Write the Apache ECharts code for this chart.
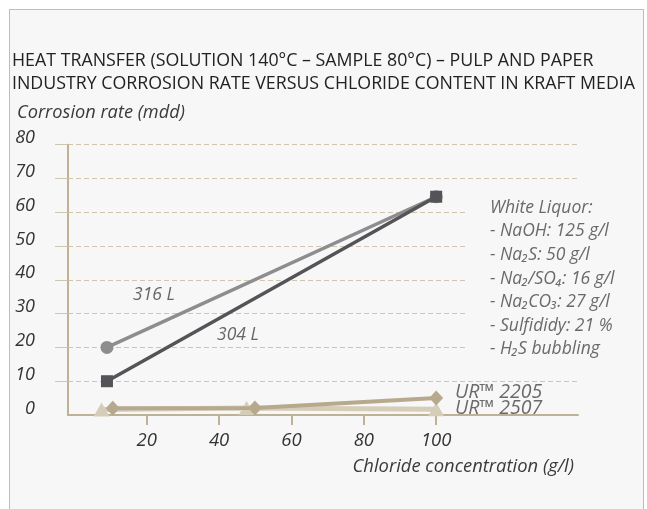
<!DOCTYPE html>
<html>
<head>
<meta charset="utf-8">
<script src="https://cdn.jsdelivr.net/npm/echarts@6/dist/echarts.min.js"></script>
<style>
  html, body { margin: 0; padding: 0; background: #ffffff; }
  #wrap { position: relative; width: 647px; height: 509px; overflow: hidden; }
  #frame { position: absolute; left: 9px; top: 9px; width: 633px; height: 530px;
           background: #f7f7f7; border: 1.5px solid #bdbdbd; }
  #chart { position: absolute; left: 0; top: 0; width: 647px; height: 509px; }
</style>
</head>
<body>
<div id="wrap"><div id="frame"></div><div id="chart"></div></div>
<script>
// ---- data ----
const titleLines = ['HEAT TRANSFER (SOLUTION 140°C – SAMPLE 80°C) – PULP AND PAPER',
                    'INDUSTRY CORROSION RATE VERSUS CHLORIDE CONTENT IN KRAFT MEDIA'];
const yAxisName = 'Corrosion rate (mdd)';
const xAxisName = 'Chloride concentration (g/l)';
const xTicks = [20, 40, 60, 80, 100];
const yTicks = [0, 10, 20, 30, 40, 50, 60, 70, 80];

const x316 = [9, 100];
const y316 = [20, 64.6];
const x304 = [9, 100];
const y304 = [10, 64.6];
const x2205 = [10.6, 49.9, 100];
const y2205 = [2.0, 2.1, 5.0];
const x2507 = [7.5, 47.6, 100];
const y2507 = [1.6, 2.1, 1.7];

const seriesNames = ['316 L', '304 L', 'UR™ 2205', 'UR™ 2507'];
const noteLines = ['White Liquor:', '- NaOH: 125 g/l', '- Na₂S: 50 g/l', '- Na₂/SO₄: 16 g/l',
                   '- Na₂CO₃: 27 g/l', '- Sulfididy: 21 %', '- H₂S bubbling'];

function pairs(xs, ys) { return xs.map((x, i) => [x, ys[i]]); }

const FONT = '"Open Sans", "Noto Sans", sans-serif';
const tan = '#bdb196';
const grid = '#cfc6b0';

const chart = echarts.init(document.getElementById('chart'), null, { renderer: 'canvas' });

const option = {
  animation: false,
  backgroundColor: 'transparent',
  grid: { left: 68, right: 69, top: 144.7, bottom: 94, containLabel: false },
  xAxis: {
    type: 'value', min: -1.77, max: 139.2,
    axisLine: { show: true, lineStyle: { color: tan, width: 2 } },
    axisTick: { show: true, customValues: xTicks, length: 10, lineStyle: { color: tan, width: 2 } },
    axisLabel: { show: true, customValues: xTicks, margin: 16, color: '#333',
                 fontFamily: FONT, fontStyle: 'italic', fontSize: 18.5 },
    splitLine: { show: false }
  },
  yAxis: {
    type: 'value', min: 0, max: 80, interval: 10,
    axisLine: { show: true, onZero: false, lineStyle: { color: tan, width: 2 } },
    axisTick: { show: true, customValues: yTicks.slice(1), length: 13, lineStyle: { color: grid, width: 1 } },
    axisLabel: { show: true, margin: 33, color: '#333', fontFamily: FONT, fontStyle: 'italic',
                 fontSize: 18, verticalAlign: 'bottom', lineHeight: 13 },
    splitLine: { show: true, lineStyle: { color: grid, type: [5, 3], width: 1 } }
  },
  series: [
    { name: seriesNames[3], type: 'line', data: pairs(x2507, y2507), symbol: 'triangle',
      symbolSize: [16, 14], color: '#d6cdb9', lineStyle: { width: 5, color: '#d6cdb9' },
      itemStyle: { color: '#d6cdb9' }, z: 2 },
    { name: seriesNames[2], type: 'line', data: pairs(x2205, y2205), symbol: 'diamond',
      symbolSize: [14, 15], color: '#b6a98d', lineStyle: { width: 4, color: '#b6a98d' },
      itemStyle: { color: '#b6a98d' }, z: 3 },
    { name: seriesNames[0], type: 'line', data: pairs(x316, y316), symbol: 'circle',
      symbolSize: 13, color: '#8d8d90', lineStyle: { width: 3.5, color: '#8d8d90' },
      itemStyle: { color: '#8d8d90' }, z: 4 },
    { name: seriesNames[1], type: 'line', data: pairs(x304, y304), symbol: 'rect',
      symbolSize: 12, color: '#545458', lineStyle: { width: 3.5, color: '#545458' },
      itemStyle: { color: '#545458' }, z: 5 }
  ],
  graphic: [
    { type: 'text', left: 12, top: 50, z: 100,
      style: { text: titleLines.join('\n'), fill: '#222', font: '17.8px ' + FONT, lineHeight: 22.4 } },
    { type: 'text', left: 17, top: 104, z: 100,
      style: { text: yAxisName, fill: '#3a3a3a', font: 'italic 18.2px ' + FONT } },
    { type: 'text', right: 73, top: 458, z: 100,
      style: { text: xAxisName, fill: '#3a3a3a', font: 'italic 18.4px ' + FONT } },
    { type: 'text', left: 133, top: 286, z: 100,
      style: { text: seriesNames[0], fill: '#666', font: 'italic 17.5px ' + FONT, letterSpacing: 1 } },
    { type: 'text', left: 217, top: 326, z: 100,
      style: { text: seriesNames[1], fill: '#666', font: 'italic 17.5px ' + FONT, letterSpacing: 1 } },
    { type: 'text', left: 455, top: 382, z: 100,
      style: { text: seriesNames[2], fill: '#6a6a6a', font: 'italic 19.5px ' + FONT } },
    { type: 'text', left: 455, top: 398, z: 100,
      style: { text: seriesNames[3], fill: '#6a6a6a', font: 'italic 19.5px ' + FONT } },
    { type: 'rect', left: 467, top: 190, z: 90, shape: { width: 150, height: 176 },
      style: { fill: '#f7f7f7' } },
    { type: 'text', left: 490, top: 196, z: 100,
      style: { text: noteLines.join('\n'), fill: '#6a6a6a', font: 'italic 17.5px ' + FONT, lineHeight: 23.6 } }
  ]
};
chart.setOption(option);
</script>
</body>
</html>
